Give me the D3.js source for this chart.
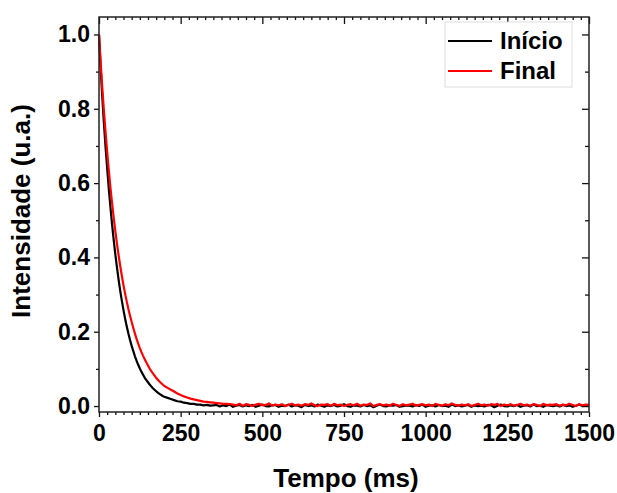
<!DOCTYPE html>
<html>
<head>
<meta charset="utf-8">
<script src="https://cdn.jsdelivr.net/npm/d3@7"></script>
<style>
  body { margin: 0; background: #fff; }
  svg text { font-family: "Liberation Sans", Arial, sans-serif; font-weight: bold; }
</style>
</head>
<body>
<div id="chart"></div>
<script>
// time grid (ms): 5 ms steps on the fast part, 10 ms afterwards
const time = d3.range(0, 200, 5).concat(d3.range(200, 1501, 10));

// "Início" trace
const inicio = [
  1.000, 0.912, 0.832, 0.762, 0.698, 0.640, 0.585, 0.535, 0.489, 0.447,
  0.408, 0.373, 0.340, 0.310, 0.283, 0.258, 0.235, 0.214, 0.195, 0.178,
  0.162, 0.148, 0.134, 0.122, 0.111, 0.101, 0.092, 0.084, 0.076, 0.070,
  0.064, 0.058, 0.053, 0.048, 0.044, 0.040, 0.036, 0.033, 0.030, 0.027,
  0.025,
  0.022, 0.019, 0.016, 0.013, 0.012, 0.009, 0.008, 0.006, 0.006, 0.004,
  0.004, 0.002, 0.003, 0.001, 0.002,
  0.003, -0.001, 0.002, 0.000, 0.004, -0.002, 0.001, 0.003, -0.001, 0.002,
  0.000, 0.003, -0.002, 0.001, 0.004, 0.000, -0.001, 0.002, 0.003, -0.002,
  0.001, 0.000, 0.004, -0.001, 0.002, 0.001, -0.003, 0.003, 0.000, 0.002,
  -0.001, 0.004, 0.001, -0.002, 0.002, 0.000, 0.003, -0.001, 0.001, 0.005,
  0.000, -0.002, 0.002, 0.001, -0.001, 0.003, 0.000, 0.002, -0.003, 0.001,
  0.004, 0.000, -0.001, 0.002, 0.001, 0.003, -0.002, 0.000, 0.002, 0.001,
  -0.001, 0.003, 0.000, 0.004, -0.002, 0.001, 0.002, -0.001, 0.003, 0.000,
  0.001, -0.002, 0.004, 0.000, 0.002, -0.001, 0.001, 0.003, -0.002, 0.002,
  0.000, 0.001, -0.001, 0.003, 0.002, -0.003, 0.001, 0.004, 0.000, -0.001,
  0.002, 0.000, 0.003, -0.002, 0.001, 0.002, -0.001, 0.004, 0.000, 0.001,
  -0.002, 0.003, 0.001, 0.000, 0.002, -0.001, 0.003, 0.000, 0.002, -0.002,
  0.001, 0.004, 0.000, 0.002, 0.001
];

// "Final" trace
const final = [
  1.000, 0.925, 0.857, 0.795, 0.738, 0.684, 0.634, 0.588, 0.546, 0.507,
  0.471, 0.437, 0.406, 0.377, 0.350, 0.325, 0.302, 0.281, 0.261, 0.243,
  0.226, 0.210, 0.195, 0.181, 0.168, 0.156, 0.145, 0.135, 0.126, 0.117,
  0.109, 0.101, 0.094, 0.088, 0.082, 0.076, 0.071, 0.066, 0.062, 0.058,
  0.054,
  0.049, 0.044, 0.039, 0.034, 0.030, 0.026, 0.023, 0.020, 0.018, 0.016,
  0.014, 0.012, 0.011, 0.010, 0.009, 0.008, 0.007, 0.006, 0.006, 0.005,
  0.004, 0.002, 0.006, 0.001, 0.005, 0.003, 0.000, 0.004, 0.006, 0.002,
  0.003, 0.007, 0.001, 0.004, 0.002, 0.005, 0.000, 0.003, 0.006, 0.002,
  0.004, 0.001, 0.005, 0.003, 0.007, 0.002, 0.000, 0.004, 0.003, 0.005,
  0.001, 0.006, 0.002, 0.004, 0.000, 0.003, 0.005, 0.002, 0.006, 0.001,
  0.004, 0.003, 0.007, 0.000, 0.003, 0.005, 0.002, 0.004, 0.001, 0.006,
  0.003, 0.000, 0.005, 0.002, 0.004, 0.006, 0.001, 0.003, 0.005, 0.002,
  0.004, 0.000, 0.006, 0.003, 0.001, 0.005, 0.002, 0.007, 0.003, 0.001,
  0.004, 0.002, 0.005, 0.000, 0.003, 0.006, 0.002, 0.004, 0.001, 0.005,
  0.003, 0.006, 0.000, 0.004, 0.002, 0.005, 0.001, 0.003, 0.006, 0.002,
  0.004, 0.001, 0.005, 0.003, 0.000, 0.006, 0.002, 0.004, 0.003, 0.005,
  0.001, 0.004, 0.002, 0.006, 0.003, 0.000, 0.005, 0.002, 0.004, 0.003
];

const xTicks = [0, 250, 500, 750, 1000, 1250, 1500];
const yTicks = [0.0, 0.2, 0.4, 0.6, 0.8, 1.0];
const series = [
  {name: 'Início', values: inicio, color: '#000'},
  {name: 'Final', values: final, color: '#f00'},
];

const width = 617, height = 493;
const plot = {left: 99, right: 589, top: 17, bottom: 412};

const svg = d3.select('#chart').append('svg')
  .attr('width', width).attr('height', height);

const x = d3.scaleLinear().domain([0, 1500]).range([plot.left, plot.right]);
const y = d3.scaleLinear().domain([-0.016, 1.047]).range([plot.bottom, plot.top]);

const xMinor = d3.range(0, 1501, 25).filter(v => v % 250 !== 0);
const yMinor = d3.range(1, 11, 2).map(v => v / 10);

const tickStyle = g => {
  g.select('.domain').remove();
  g.selectAll('line').attr('stroke', '#111').attr('stroke-width', 1.3);
};

// minor ticks (no labels)
svg.append('g').attr('transform', `translate(0,${plot.bottom})`)
  .call(d3.axisBottom(x).tickValues(xMinor).tickSize(3).tickFormat(''))
  .call(tickStyle);
svg.append('g').attr('transform', `translate(0,${plot.top})`)
  .call(d3.axisBottom(x).tickValues(xMinor).tickSize(3).tickFormat(''))
  .call(tickStyle);
svg.append('g').attr('transform', `translate(${plot.left},0)`)
  .call(d3.axisLeft(y).tickValues(yMinor).tickSize(3).tickFormat(''))
  .call(tickStyle);
svg.append('g').attr('transform', `translate(${plot.right},0)`)
  .call(d3.axisLeft(y).tickValues(yMinor).tickSize(4).tickFormat(''))
  .call(tickStyle);

// major ticks
const xAxis = svg.append('g').attr('transform', `translate(0,${plot.bottom})`)
  .call(d3.axisBottom(x).tickValues(xTicks).tickSize(5).tickPadding(8).tickFormat(d3.format('d')))
  .call(tickStyle);
svg.append('g').attr('transform', `translate(0,${plot.top})`)
  .call(d3.axisBottom(x).tickValues(xTicks).tickSize(7).tickFormat(''))
  .call(tickStyle);
const yAxis = svg.append('g').attr('transform', `translate(${plot.left},0)`)
  .call(d3.axisLeft(y).tickValues(yTicks).tickSize(5).tickPadding(4).tickFormat(d3.format('.1f')))
  .call(tickStyle);
svg.append('g').attr('transform', `translate(${plot.right},0)`)
  .call(d3.axisLeft(y).tickValues(yTicks).tickSize(7).tickFormat(''))
  .call(tickStyle);

[xAxis, yAxis].forEach(a => a.selectAll('text')
  .attr('fill', '#000')
  .style('font-size', '23px')
  .style('font-family', '"Liberation Sans", Arial, sans-serif')
  .style('font-weight', 'bold'));

// curves
const line = d3.line()
  .x((d, i) => x(time[i]))
  .y(d => y(d));

series.forEach(s => {
  svg.append('path')
    .datum(s.values.slice(0, time.length))
    .attr('fill', 'none')
    .attr('stroke', s.color)
    .attr('stroke-width', 2.2)
    .attr('stroke-linejoin', 'round')
    .attr('d', line);
});

// frame
svg.append('rect')
  .attr('x', plot.left).attr('y', plot.top)
  .attr('width', plot.right - plot.left).attr('height', plot.bottom - plot.top)
  .attr('fill', 'none').attr('stroke', '#222').attr('stroke-width', 1.5);

// legend
const legend = svg.append('g');
legend.append('rect')
  .attr('x', 445).attr('y', 22).attr('width', 127).attr('height', 65)
  .attr('fill', '#fff').attr('stroke', '#ddd').attr('stroke-width', 1);
series.forEach((s, i) => {
  const ly = 41 + i * 30;
  legend.append('line')
    .attr('x1', 448).attr('x2', 492).attr('y1', ly).attr('y2', ly)
    .attr('stroke', s.color).attr('stroke-width', 1.8);
  legend.append('text')
    .attr('x', 500).attr('y', ly + 8)
    .style('font-size', '24px')
    .text(s.name);
});

// axis titles
svg.append('text')
  .attr('x', 346).attr('y', 487)
  .attr('text-anchor', 'middle')
  .style('font-size', '26px')
  .text('Tempo (ms)');

svg.append('text')
  .attr('transform', 'translate(30,211) rotate(-90)')
  .attr('text-anchor', 'middle')
  .style('font-size', '26px')
  .text('Intensidade (u.a.)');
</script>
</body>
</html>
